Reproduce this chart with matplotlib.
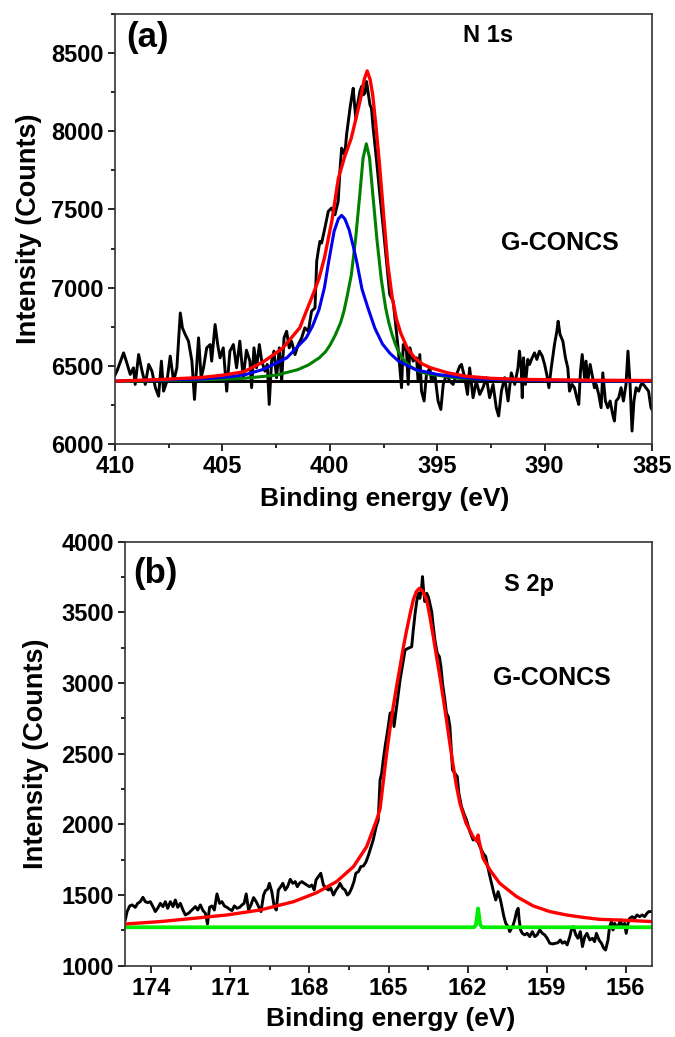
import matplotlib
matplotlib.use('Agg')
import matplotlib.pyplot as plt
from matplotlib.ticker import MultipleLocator

plt.rcParams['font.family'] = ['Liberation Sans', 'DejaVu Sans']
plt.rcParams['font.weight'] = 'bold'

#----(a) N 1s : measured spectrum----
n1s_E = [410.0, 409.91, 409.6, 409.45, 409.29, 409.14, 409.06, 408.9, 408.74, 408.59, 408.43, 408.28,
         408.12, 407.97, 407.84, 407.74, 407.58, 407.43, 407.27, 407.12, 406.96, 406.86, 406.73, 406.58,
         406.42, 406.3, 406.11, 405.99, 405.88, 405.73, 405.57, 405.5, 405.34, 405.22, 405.11, 404.96,
         404.8, 404.65, 404.49, 404.34, 404.19, 404.03, 403.88, 403.72, 403.64, 403.53, 403.41, 403.28,
         403.17, 403.02, 402.91, 402.82, 402.71, 402.6, 402.48, 402.35, 402.24, 402.13, 402.01, 401.89,
         401.78, 401.62, 401.47, 401.31, 401.16, 401.0, 400.85, 400.69, 400.61, 400.54, 400.46, 400.38,
         400.23, 400.07, 399.92, 399.76, 399.61, 399.53, 399.45, 399.37, 399.3, 399.22, 399.14, 399.06,
         398.99, 398.91, 398.86, 398.79, 398.71, 398.6, 398.52, 398.44, 398.37, 398.29, 398.21, 398.13,
         398.06, 397.98, 397.82, 397.67, 397.51, 397.36, 397.21, 397.05, 396.82, 396.66, 396.58, 396.43,
         396.35, 396.27, 396.12, 395.96, 395.89, 395.81, 395.73, 395.61, 395.5, 395.34, 395.27, 395.11,
         394.96, 394.83, 394.72, 394.57, 394.41, 394.26, 394.1, 393.95, 393.87, 393.72, 393.59, 393.49,
         393.33, 393.18, 393.02, 392.87, 392.71, 392.56, 392.4, 392.25, 392.14, 392.01, 391.86, 391.7,
         391.55, 391.39, 391.24, 391.17, 391.09, 391.04, 390.98, 390.89, 390.78, 390.7, 390.58, 390.47,
         390.36, 390.24, 390.11, 390.0, 389.9, 389.8, 389.69, 389.54, 389.43, 389.37, 389.28, 389.15,
         389.03, 388.92, 388.84, 388.72, 388.61, 388.5, 388.41, 388.33, 388.25, 388.14, 388.07, 387.99,
         387.88, 387.79, 387.68, 387.6, 387.48, 387.37, 387.29, 387.17, 387.06, 386.95, 386.83, 386.75,
         386.67, 386.55, 386.44, 386.33, 386.21, 386.12, 386.02, 385.93, 385.84, 385.74, 385.62, 385.51,
         385.4, 385.28, 385.16, 385.05, 385.0]
n1s_I = [6440, 6466, 6583, 6519, 6445, 6487, 6381, 6572, 6466, 6381, 6509, 6466,
         6360, 6306, 6530, 6338, 6402, 6562, 6402, 6487, 6838, 6742, 6700, 6658,
         6530, 6285, 6679, 6424, 6487, 6615, 6636, 6530, 6764, 6636, 6551, 6615,
         6338, 6594, 6636, 6487, 6658, 6424, 6600, 6530, 6360, 6615, 6487, 6636,
         6530, 6466, 6509, 6253, 6530, 6594, 6424, 6615, 6402, 6679, 6721, 6615,
         6657, 6572, 6636, 6679, 6743, 6721, 6849, 6870, 7168, 7232, 7296, 7285,
         7381, 7488, 7509, 7466, 7552, 7743, 7892, 7871, 7850, 7977, 8062, 8147,
         8211, 8275, 8190, 8083, 8169, 8254, 8286, 8233, 8243, 8318, 8243, 8169,
         8147, 8020, 7807, 7594, 7381, 7168, 6956, 6913, 6615, 6360, 6636, 6594,
         6381, 6615, 6530, 6551, 6402, 6572, 6338, 6275, 6445, 6487, 6402, 6445,
         6275, 6221, 6381, 6445, 6402, 6381, 6445, 6498, 6509, 6424, 6317, 6487,
         6296, 6402, 6317, 6360, 6424, 6296, 6381, 6232, 6179, 6338, 6424, 6275,
         6455, 6381, 6487, 6594, 6487, 6296, 6551, 6381, 6541, 6509, 6551, 6583,
         6541, 6594, 6562, 6509, 6445, 6360, 6487, 6636, 6721, 6785, 6700, 6658,
         6551, 6487, 6338, 6381, 6360, 6296, 6253, 6466, 6572, 6424, 6530, 6402,
         6509, 6445, 6360, 6381, 6317, 6232, 6455, 6275, 6232, 6275, 6190, 6147,
         6275, 6296, 6360, 6275, 6381, 6594, 6381, 6083, 6275, 6360, 6338, 6381,
         6381, 6360, 6338, 6232, 6220]

#----(a) fitted components----
n1s_base = 6400
green_E = [410.0, 406.0, 404.0, 402.5, 401.5, 401.0, 400.5, 400.2, 400.0, 399.75, 399.5, 399.35,
           399.2, 399.0, 398.8, 398.6, 398.45, 398.3, 398.15, 398.0, 397.8, 397.6, 397.4, 397.25,
           397.1, 396.95, 396.8, 396.55, 396.3, 395.9, 395.5, 394.0, 392.0, 385.0]
green_I = [6400, 6410, 6420, 6440, 6475, 6505, 6550, 6590, 6630, 6695, 6775, 6845,
           6940, 7080, 7310, 7600, 7830, 7920, 7830, 7600, 7300, 7050, 6870, 6775,
           6700, 6640, 6590, 6535, 6500, 6468, 6450, 6420, 6410, 6400]
blue_E = [410.0, 406.0, 404.5, 403.9, 403.1, 402.0, 401.1, 400.8, 400.5, 400.25, 400.05, 399.8,
          399.6, 399.45, 399.3, 399.1, 398.9, 398.75, 398.5, 398.2, 397.9, 397.55, 397.2, 396.8,
          396.0, 395.0, 394.0, 393.0, 391.0, 388.0, 385.0]
blue_I = [6402, 6415, 6432, 6445, 6477, 6551, 6679, 6755, 6860, 7000, 7168, 7360,
          7440, 7462, 7440, 7370, 7260, 7168, 6990, 6860, 6740, 6640, 6580, 6530,
          6475, 6445, 6428, 6415, 6408, 6403, 6401]
red_E = [410.0, 408.0, 406.0, 405.0, 404.0, 403.1, 402.2, 401.4, 400.8, 400.5, 400.25, 399.9,
         399.6, 399.3, 399.0, 398.75, 398.55, 398.4, 398.26, 398.12, 398.0, 397.85, 397.7, 397.55,
         397.45, 397.3, 397.1, 396.9, 396.7, 396.4, 396.05, 395.7, 395.3, 394.5, 393.7, 392.5,
         391.0, 388.0, 385.0]
red_I = [6402, 6412, 6425, 6440, 6462, 6525, 6612, 6743, 6950, 7060, 7190, 7430,
         7700, 7840, 7956, 8100, 8220, 8330, 8386, 8330, 8230, 8030, 7810, 7560,
         7390, 7150, 6940, 6800, 6710, 6615, 6551, 6512, 6487, 6455, 6434, 6420,
         6413, 6408, 6406]

#----(b) S 2p : measured spectrum----
s2p_E = [174.99, 174.92, 174.82, 174.73, 174.61, 174.52, 174.42, 174.32, 174.23, 174.14, 174.04, 173.94,
         173.85, 173.76, 173.66, 173.56, 173.47, 173.38, 173.28, 173.18, 173.09, 173.0, 172.9, 172.8,
         172.71, 172.59, 172.46, 172.33, 172.24, 172.14, 172.04, 171.95, 171.87, 171.79, 171.7, 171.61,
         171.51, 171.41, 171.32, 171.23, 171.13, 171.03, 170.94, 170.85, 170.75, 170.65, 170.56, 170.48,
         170.4, 170.31, 170.22, 170.12, 170.02, 169.93, 169.84, 169.74, 169.67, 169.59, 169.52, 169.43,
         169.34, 169.26, 169.18, 169.09, 169.01, 168.92, 168.83, 168.73, 168.63, 168.54, 168.46, 168.38,
         168.29, 168.2, 168.1, 168.0, 167.91, 167.82, 167.75, 167.66, 167.57, 167.47, 167.37, 167.28,
         167.19, 167.09, 166.99, 166.9, 166.84, 166.74, 166.65, 166.56, 166.49, 166.4, 166.31, 166.24,
         166.14, 166.05, 165.95, 165.85, 165.76, 165.68, 165.58, 165.47, 165.39, 165.32, 165.26, 165.2,
         165.13, 165.07, 165.01, 164.94, 164.84, 164.79, 164.69, 164.56, 164.37, 164.25, 164.12, 164.06,
         163.99, 163.93, 163.87, 163.81, 163.74, 163.71, 163.67, 163.62, 163.55, 163.49, 163.43, 163.36,
         163.3, 163.24, 163.15, 163.07, 163.01, 162.95, 162.86, 162.8, 162.73, 162.67, 162.61, 162.57,
         162.48, 162.39, 162.33, 162.23, 162.14, 162.04, 161.91, 161.79, 161.66, 161.53, 161.41, 161.31,
         161.26, 161.18, 161.09, 161.0, 160.93, 160.84, 160.75, 160.67, 160.62, 160.55, 160.46, 160.4,
         160.33, 160.27, 160.21, 160.14, 160.08, 160.04, 159.99, 159.92, 159.83, 159.74, 159.64, 159.54,
         159.45, 159.36, 159.26, 159.16, 159.07, 158.98, 158.88, 158.78, 158.65, 158.57, 158.48, 158.4,
         158.31, 158.22, 158.12, 158.06, 157.99, 157.89, 157.81, 157.72, 157.64, 157.55, 157.47, 157.36,
         157.26, 157.18, 157.11, 157.01, 156.92, 156.83, 156.76, 156.67, 156.61, 156.54, 156.48, 156.42,
         156.35, 156.29, 156.2, 156.13, 156.04, 155.98, 155.91, 155.85, 155.75, 155.66, 155.57, 155.47,
         155.37, 155.28, 155.19, 155.12, 155.03]
s2p_I = [1324, 1383, 1423, 1430, 1413, 1441, 1453, 1484, 1453, 1446, 1453, 1418,
         1383, 1406, 1441, 1418, 1453, 1406, 1453, 1418, 1465, 1413, 1441, 1394,
         1359, 1371, 1394, 1418, 1394, 1430, 1390, 1371, 1295, 1413, 1423, 1394,
         1508, 1441, 1453, 1423, 1413, 1399, 1390, 1423, 1406, 1413, 1430, 1441,
         1508, 1394, 1430, 1482, 1453, 1418, 1383, 1500, 1531, 1541, 1583, 1524,
         1423, 1394, 1536, 1559, 1583, 1536, 1559, 1611, 1583, 1595, 1559, 1583,
         1595, 1583, 1571, 1559, 1571, 1536, 1607, 1630, 1654, 1571, 1548, 1536,
         1548, 1500, 1536, 1559, 1583, 1548, 1536, 1500, 1512, 1548, 1595, 1654,
         1666, 1701, 1706, 1736, 1783, 1831, 1890, 1984, 2031, 2314, 2361, 2456,
         2550, 2621, 2692, 2786, 2798, 2692, 2833, 3022, 3234, 3246, 3257, 3375,
         3493, 3576, 3635, 3599, 3682, 3753, 3658, 3576, 3635, 3611, 3564, 3505,
         3399, 3305, 3210, 3187, 3116, 2998, 2880, 2786, 2762, 2692, 2503, 2385,
         2361, 2338, 2220, 2126, 2078, 2031, 1948, 1890, 1901, 1842, 1795, 1772,
         1724, 1654, 1583, 1512, 1465, 1524, 1465, 1394, 1347, 1300, 1276, 1241,
         1265, 1288, 1324, 1383, 1406, 1324, 1253, 1229, 1218, 1229, 1206, 1241,
         1206, 1218, 1253, 1229, 1218, 1194, 1159, 1154, 1159, 1163, 1182, 1159,
         1170, 1147, 1206, 1253, 1276, 1218, 1194, 1241, 1135, 1206, 1229, 1182,
         1194, 1170, 1229, 1182, 1159, 1123, 1111, 1182, 1276, 1312, 1253, 1300,
         1276, 1276, 1324, 1276, 1300, 1229, 1300, 1335, 1347, 1335, 1359, 1347,
         1359, 1347, 1371, 1383, 1383]

#----(b) fitted envelope and background----
s2p_red_E = [175.0, 173.66, 172.4, 171.13, 169.87, 168.6, 167.72, 166.97, 166.33, 165.83, 165.45, 165.32,
             165.07, 164.95, 164.82, 164.69, 164.56, 164.44, 164.31, 164.18, 164.06, 163.95, 163.83, 163.7,
             163.55, 163.43, 163.3, 163.18, 163.05, 162.92, 162.8, 162.67, 162.54, 162.42, 162.29, 162.06,
             161.79, 161.7, 161.64, 161.6, 161.56, 161.51, 161.41, 161.15, 160.78, 160.14, 159.51, 158.88,
             158.25, 157.62, 156.99, 156.35, 155.72, 155.0]
s2p_red_I = [1295, 1312, 1335, 1359, 1394, 1453, 1517, 1595, 1701, 1842, 2031, 2110,
             2503, 2670, 2833, 2980, 3116, 3250, 3375, 3490, 3588, 3645, 3670, 3650,
             3588, 3470, 3328, 3190, 3045, 2890, 2739, 2570, 2409, 2270, 2149, 2010,
             1913, 1890, 1880, 1925, 1880, 1842, 1760, 1677, 1583, 1489, 1423, 1383,
             1359, 1342, 1328, 1324, 1319, 1312]
s2p_green_E = [175.0, 161.75, 161.68, 161.64, 161.6, 161.56, 161.52, 161.45, 155.0]
s2p_green_I = [1272, 1272, 1290, 1350, 1405, 1350, 1290, 1272, 1272]

#----図の作成----
fig = plt.figure(figsize=(6.75, 10.37), dpi=100)
ax1 = fig.add_axes([115/675, 1-444/1037, 537/675, 430/1037])
ax2 = fig.add_axes([125/675, 1-965.7/1037, 527/675, 424/1037])

# (a)
ax1.plot(n1s_E, n1s_I, color='black', lw=2.1)
ax1.plot([409.3, 385.1], [n1s_base, n1s_base], color='black', lw=2.1)
ax1.plot(green_E, green_I, color='#008000', lw=2.2)
ax1.plot(blue_E, blue_I, color='#0000ee', lw=2.2)
ax1.plot(red_E, red_I, color='#ff0000', lw=2.4)
ax1.set_xlim(410, 385)
ax1.set_ylim(6000, 8750)
ax1.xaxis.set_major_locator(MultipleLocator(5))
ax1.xaxis.set_minor_locator(MultipleLocator(2.5))
ax1.yaxis.set_major_locator(MultipleLocator(500))
ax1.yaxis.set_minor_locator(MultipleLocator(250))
ax1.text(0.06, 0.946, '(a)', transform=ax1.transAxes, fontsize=25, fontweight='bold', ha='center', va='center')
ax1.text(0.695, 0.951, 'N 1s', transform=ax1.transAxes, fontsize=17, fontweight='bold', ha='center', va='center')
ax1.text(0.829, 0.467, 'G-CONCS', transform=ax1.transAxes, fontsize=18, fontweight='bold', ha='center', va='center')

# (b)
ax2.plot(s2p_E, s2p_I, color='black', lw=2.1)
ax2.plot(s2p_green_E, s2p_green_I, color='#00ee00', lw=2.7)
ax2.plot(s2p_red_E, s2p_red_I, color='#ff0000', lw=2.4)
ax2.set_xlim(175, 155)
ax2.set_ylim(1000, 4000)
ax2.xaxis.set_major_locator(MultipleLocator(3))
ax2.xaxis.set_minor_locator(MultipleLocator(1.5))
ax2.yaxis.set_major_locator(MultipleLocator(500))
ax2.yaxis.set_minor_locator(MultipleLocator(250))
ax2.text(0.057, 0.926, '(b)', transform=ax2.transAxes, fontsize=25, fontweight='bold', ha='center', va='center')
ax2.text(0.767, 0.9, 'S 2p', transform=ax2.transAxes, fontsize=17, fontweight='bold', ha='center', va='center')
ax2.text(0.81, 0.679, 'G-CONCS', transform=ax2.transAxes, fontsize=18, fontweight='bold', ha='center', va='center')

for ax in (ax1, ax2):
    ax.tick_params(which='both', direction='out', top=False, right=False, width=1.2, labelsize=17)
    ax.tick_params(which='major', length=5, pad=3)
    ax.tick_params(which='minor', length=3)
    for s in ax.spines.values():
        s.set_linewidth(1.2)
        s.set_color('#333333')
    ax.set_xlabel('Binding energy (eV)', fontsize=19, fontweight='bold')
    ax.set_ylabel('Intensity (Counts)', fontsize=19.5, fontweight='bold')

ax1.xaxis.set_label_coords(0.503, -0.100)
ax1.yaxis.set_label_coords(-0.136, 0.5)
ax2.xaxis.set_label_coords(0.504, -0.098)
ax2.yaxis.set_label_coords(-0.144, 0.5)

fig.savefig('out.png', dpi=100)
